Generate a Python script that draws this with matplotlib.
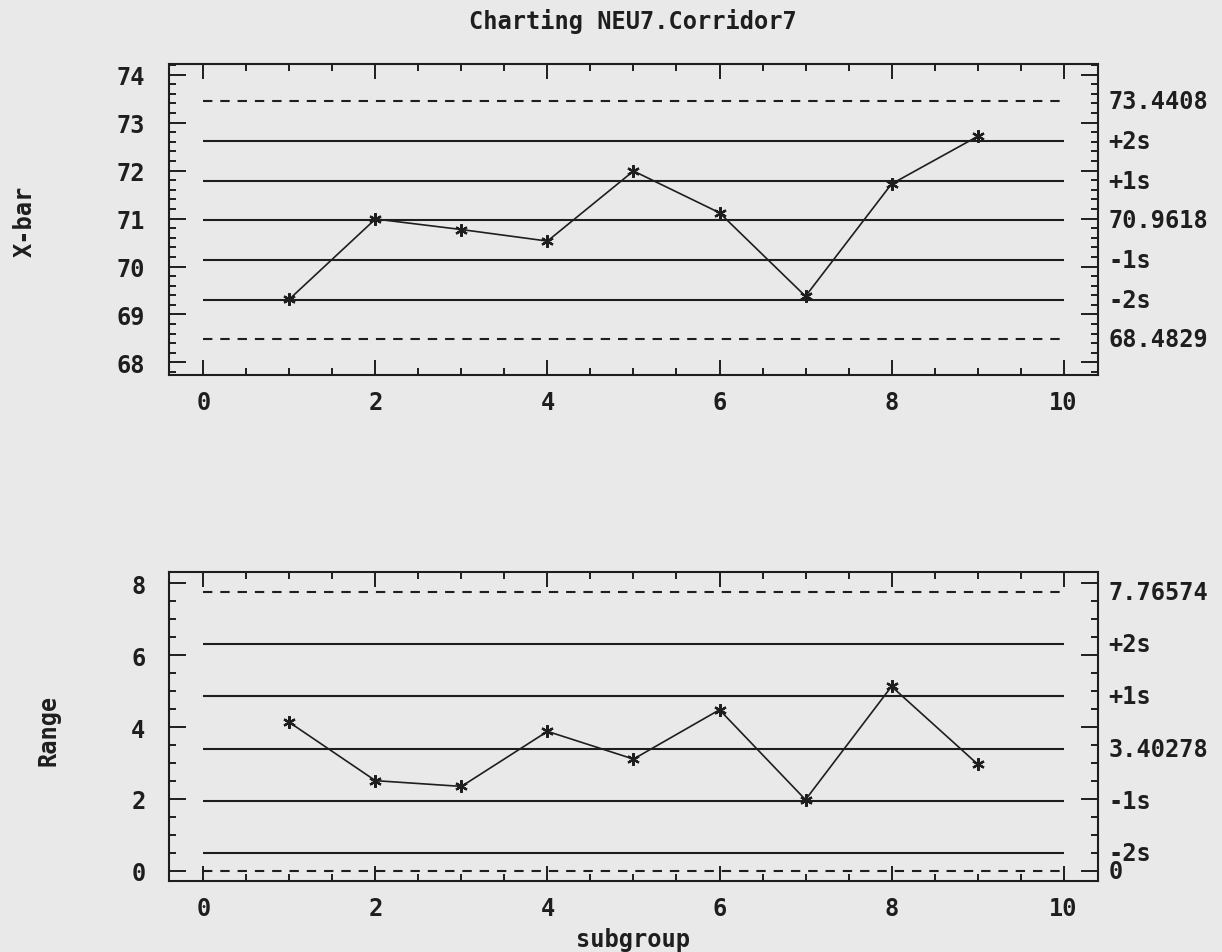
import numpy as np
import matplotlib.pyplot as plt
from matplotlib.ticker import MultipleLocator

# subgroup data
subgroup = [1, 2, 3, 4, 5, 6, 7, 8, 9]
xbar = [69.32, 70.99, 70.77, 70.53, 71.99, 71.12, 69.38, 71.72, 72.71]
ranges = [4.13, 2.51, 2.35, 3.88, 3.11, 4.48, 1.98, 5.13, 2.97]

# control limits printed on the right side
xbar_ucl, xbar_cl, xbar_lcl = 73.4408, 70.9618, 68.4829
r_ucl, r_cl, r_lcl = 7.76574, 3.40278, 0.0

title = "Charting NEU7.Corridor7"

ink = '#1e1e1e'
paper = '#e9e9e9'
font = dict(family='DejaVu Sans Mono', weight='bold', color=ink)
fs = 17

plt.rcParams['font.family'] = 'DejaVu Sans Mono'
plt.rcParams['font.weight'] = 'bold'

fig = plt.figure(figsize=(12.22, 9.53), dpi=100, facecolor=paper)
ax1 = fig.add_axes([0.1383, 0.6055, 0.7602, 0.3263], facecolor=paper)
ax2 = fig.add_axes([0.1383, 0.0745, 0.7602, 0.3242], facecolor=paper)


def control_chart(ax, values, ucl, cl, lcl, ylim, major, minor, labels):
    sig = (ucl - cl) / 3.0
    solid = [cl + 2 * sig, cl + sig, cl, cl - sig, cl - 2 * sig]
    ax.hlines(solid, 0, 10, colors=ink, lw=1.5)
    ax.hlines([ucl, lcl], 0, 10, colors=ink, lw=1.5, linestyles=(0, (4.5, 3.8)))
    ax.plot(subgroup, values, color=ink, lw=1.2, marker=(6, 2, 0),
            markersize=9, markeredgewidth=1.6)

    ax.set_xlim(-0.4, 10.4)
    ax.set_ylim(*ylim)
    ax.xaxis.set_major_locator(MultipleLocator(2))
    ax.xaxis.set_minor_locator(MultipleLocator(0.5))
    ax.yaxis.set_major_locator(MultipleLocator(major))
    ax.yaxis.set_minor_locator(MultipleLocator(minor))
    ax.tick_params(which='both', direction='in', top=True, right=True,
                   colors=ink, width=1.4)
    ax.tick_params(which='major', length=11)
    ax.tick_params(which='minor', length=5)
    ax.tick_params(axis='y', which='major', length=12, labelsize=fs, pad=17)
    ax.tick_params(axis='x', which='major', labelsize=fs, pad=11)
    for s in ax.spines.values():
        s.set_linewidth(1.5)
        s.set_color(ink)

    # labels for the limit lines on the right edge
    levels = [ucl, cl + 2 * sig, cl + sig, cl, cl - sig, cl - 2 * sig, lcl]
    tr = ax.get_yaxis_transform()
    for lev, txt in zip(levels, labels):
        if txt:
            ax.text(1.011, lev, txt, transform=tr, ha='left', va='center',
                    fontsize=fs, **font)


control_chart(ax1, xbar, xbar_ucl, xbar_cl, xbar_lcl, (67.74, 74.22), 1, 0.2,
              ["73.4408", "+2s", "+1s", "70.9618", "-1s", "-2s", "68.4829"])
control_chart(ax2, ranges, r_ucl, r_cl, r_lcl, (-0.28, 8.31), 2, 0.5,
              ["7.76574", "+2s", "+1s", "3.40278", "-1s", "-2s", "0"])

fig.text(0.518, 0.977, title, ha='center', va='center', fontsize=fs, **font)
fig.text(0.020, 0.768, "X-bar", rotation=90, ha='center', va='center', fontsize=fs, **font)
fig.text(0.040, 0.234, "Range", rotation=90, ha='center', va='center', fontsize=fs, **font)
fig.text(0.518, 0.014, "subgroup", ha='center', va='center', fontsize=fs, **font)

fig.savefig('out.png', dpi=100, facecolor=paper)
